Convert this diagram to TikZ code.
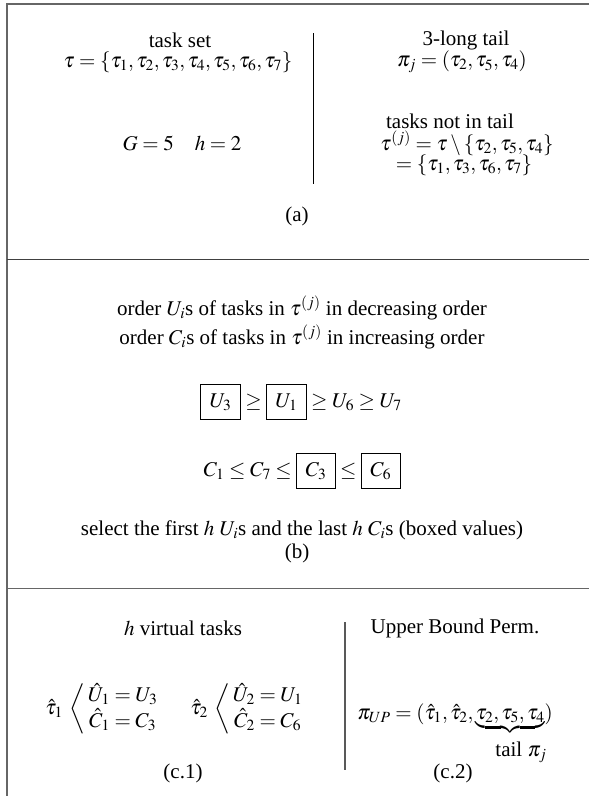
\documentclass[tikz,border=0pt]{standalone}
\usepackage{mathptmx}
\usepackage[no-math]{fontspec}
\setmainfont{Liberation Serif}
\begin{document}
\begin{tikzpicture}[x=1pt,y=-1pt,
  every node/.style={font=\fontsize{21}{25}\selectfont, inner sep=0pt},
  frameline/.style={line width=1.4pt, draw=black!60},
  sepline/.style={line width=1pt, draw=black},
  sepgray/.style={line width=1.6pt, draw=black!65}]
\useasboundingbox (0,0) rectangle (589,796);
\setlength{\fboxsep}{8.5pt}
\setlength{\fboxrule}{0.7pt}
% frame
\coordinate (tl) at (7,4);
\coordinate (tr) at (589,4);
\coordinate (bl) at (7,796);
\coordinate (m1l) at (7,259.5);
\coordinate (m1r) at (589,259.5);
\coordinate (m2l) at (7,588.5);
\coordinate (m2r) at (589,588.5);
\draw[frameline] (tr) -- (tl) -- (bl);
\draw[frameline, draw=black!75] (m1l) -- (m1r);
\draw[frameline] (m2l) -- (m2r);
% section a
\node (tasksetlbl) at (180,40) {task set};
\node (taskset) at (178,62) {$\tau=\{\tau_1,\tau_2,\tau_3,\tau_4,\tau_5,\tau_6,\tau_7\}$};
\node (gh) at (182,143) {$G=5\quad h=2$};
\node (taillbl) at (466,40) {3-long tail};
\node (tail) at (462,62) {$\pi_j=(\tau_2,\tau_5,\tau_4)$};
\node (notlbl) at (450,121) {tasks not in tail};
\node (notset) at (467,143) {$\tau^{(j)}=\tau\setminus\{\tau_2,\tau_5,\tau_4\}$};
\node (notset2) at (464,165) {$=\{\tau_1,\tau_3,\tau_6,\tau_7\}$};
\coordinate (sa1) at (313,33);
\coordinate (sa2) at (313,184);
\draw[sepline] (sa1) -- (sa2);
\node (capa) at (297,216) {(a)};
% section b
\node (ordU) at (302,308) {order $U_i$s of tasks in $\tau^{(j)}$ in decreasing order};
\node (ordC) at (302,337) {order $C_i$s of tasks in $\tau^{(j)}$ in increasing order};
\node (Urow) at (301,402) {$\mbox{\fbox{$U_3$}}\geq\mbox{\fbox{$U_1$}}\geq U_6\geq U_7$};
\node (Crow) at (302,471) {$C_1\leq C_7\leq\mbox{\fbox{$C_3$}}\leq\mbox{\fbox{$C_6$}}$};
\node (sel) at (302,530) {select the first $h$ $U_i$s and the last $h$ $C_i$s (boxed values)};
\node (capb) at (297,553) {(b)};
% section c
\node (virt) at (183,628) {$h$ virtual tasks};
\node (vt1) at (102,709) {$\hat\tau_1\;\left\langle\,\begin{array}{@{}c@{}}\hat U_1=U_3\\ \hat C_1=C_3\end{array}\right.$};
\node (vt2) at (247,709) {$\hat\tau_2\;\left\langle\,\begin{array}{@{}c@{}}\hat U_2=U_1\\ \hat C_2=C_6\end{array}\right.$};
\node (ubp) at (455,628) {Upper Bound Perm.};
\node[anchor=base] (piup) at (455,719) {$\pi_{UP}=(\hat\tau_1,\hat\tau_2,\underbrace{\tau_2,\tau_5,\tau_4})$};
\node (taillab) at (521,752) {tail $\pi_j$};
\coordinate (sc1) at (345,622);
\coordinate (sc2) at (345,770);
\draw[sepgray] (sc1) -- (sc2);
\node (capc1) at (183,773) {(c.1)};
\node (capc2) at (453,773) {(c.2)};
\end{tikzpicture}
\end{document}
